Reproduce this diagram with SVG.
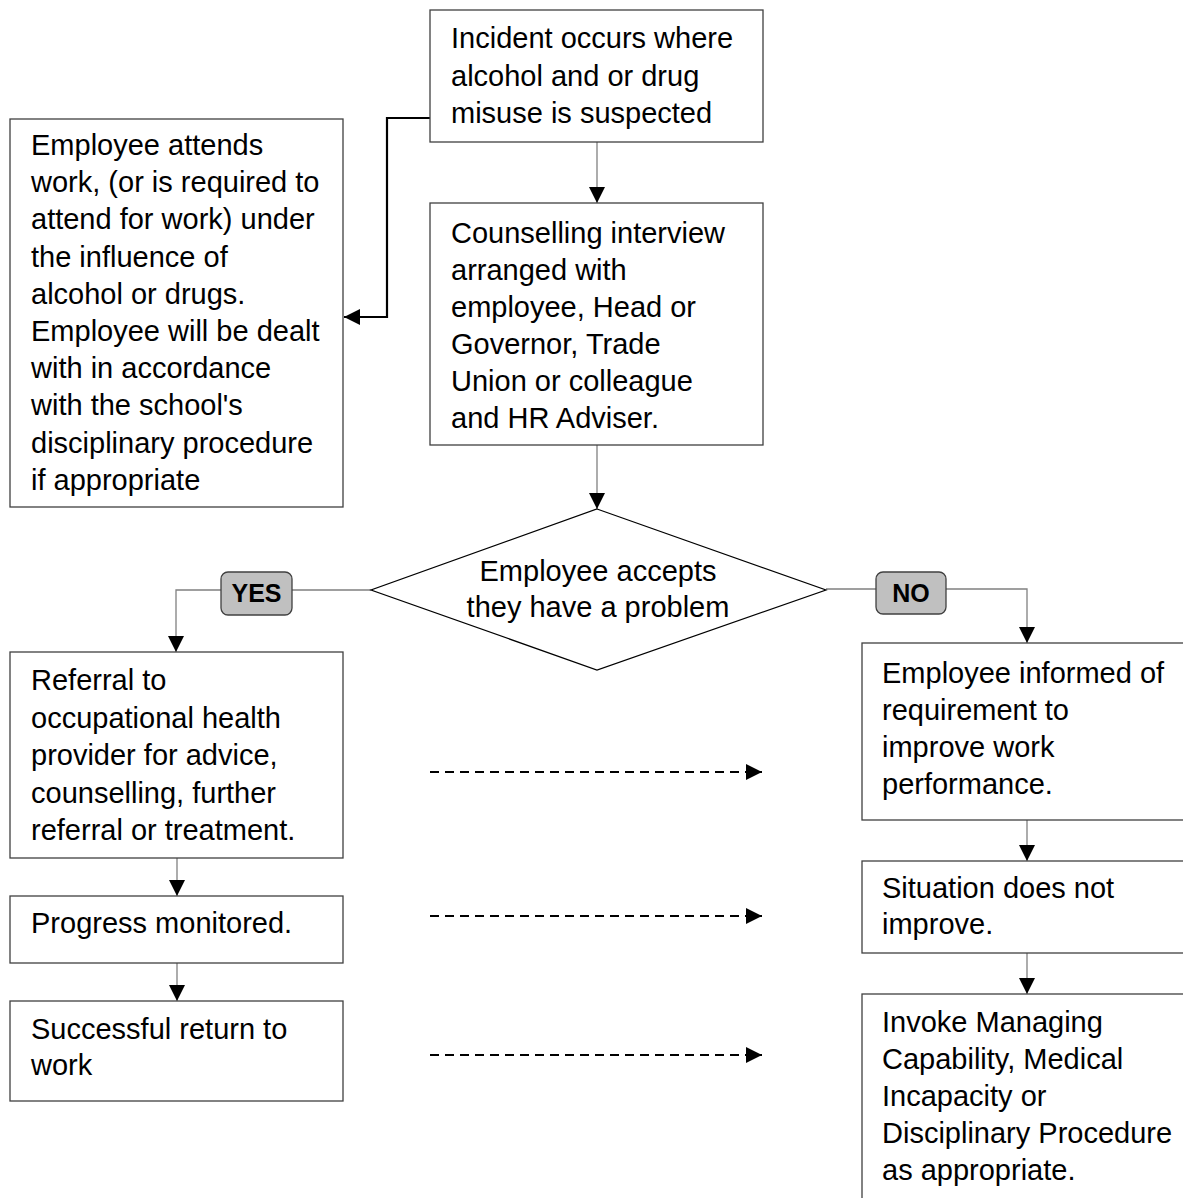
<svg xmlns="http://www.w3.org/2000/svg" width="1183" height="1198" viewBox="0 0 1183 1198">
<style>
.box{fill:#fff;stroke:#404040;stroke-width:1.3}
.t{font-family:"Liberation Sans",Arial,sans-serif;font-size:29px;fill:#000}
.tc{text-anchor:middle}
.lbl{fill:#c0c0c0;stroke:#404040;stroke-width:1.3}
.lt{font-family:"Liberation Sans",Arial,sans-serif;font-size:25px;font-weight:bold;fill:#000;text-anchor:middle}
.c{fill:none;stroke:#808080;stroke-width:1.3}
.cb{fill:none;stroke:#000;stroke-width:2.2}
.d{fill:none;stroke:#000;stroke-width:2;stroke-dasharray:9 6}
</style>
<defs>
<marker id="ah" markerUnits="userSpaceOnUse" markerWidth="16" markerHeight="16" refX="14" refY="7" orient="auto" viewBox="0 0 14 14">
<path d="M0,0 L14,7 L0,14 Z" fill="#000"/>
</marker>
</defs>
<g id="connectors">
<line class="c" x1="597" y1="142" x2="597" y2="203" marker-end="url(#ah)"/>
<polyline class="cb" points="430,118 387,118 387,317 344,317" marker-end="url(#ah)"/>
<line class="c" x1="597" y1="445" x2="597" y2="509" marker-end="url(#ah)"/>
<polyline class="c" points="371,590 176,590 176,652" marker-end="url(#ah)"/>
<polyline class="c" points="826,589 1027,589 1027,643" marker-end="url(#ah)"/>
<line class="c" x1="177" y1="858" x2="177" y2="896" marker-end="url(#ah)"/>
<line class="c" x1="177" y1="963" x2="177" y2="1001" marker-end="url(#ah)"/>
<line class="c" x1="1027" y1="820" x2="1027" y2="861" marker-end="url(#ah)"/>
<line class="c" x1="1027" y1="953" x2="1027" y2="994" marker-end="url(#ah)"/>
<line class="d" x1="430" y1="772" x2="762" y2="772" marker-end="url(#ah)"/>
<line class="d" x1="430" y1="916" x2="762" y2="916" marker-end="url(#ah)"/>
<line class="d" x1="430" y1="1055" x2="762" y2="1055" marker-end="url(#ah)"/>
</g>
<g id="incident">
<rect class="box" x="430" y="10" width="333" height="132"/>
<text class="t" x="451" y="48">Incident occurs where</text>
<text class="t" x="451" y="85.5">alcohol and or drug</text>
<text class="t" x="451" y="123">misuse is suspected</text>
</g>
<g id="influence">
<rect class="box" x="10" y="119" width="333" height="388"/>
<text class="t" x="31" y="155">Employee attends</text>
<text class="t" x="31" y="192.2">work, (or is required to</text>
<text class="t" x="31" y="229.4">attend for work) under</text>
<text class="t" x="31" y="266.6">the influence of</text>
<text class="t" x="31" y="303.8">alcohol or drugs.</text>
<text class="t" x="31" y="341">Employee will be dealt</text>
<text class="t" x="31" y="378.2">with in accordance</text>
<text class="t" x="31" y="415.4">with the school's</text>
<text class="t" x="31" y="452.6">disciplinary procedure</text>
<text class="t" x="31" y="489.8">if appropriate</text>
</g>
<g id="counselling">
<rect class="box" x="430" y="203" width="333" height="242"/>
<text class="t" x="451" y="243">Counselling interview</text>
<text class="t" x="451" y="280">arranged with</text>
<text class="t" x="451" y="317">employee, Head or</text>
<text class="t" x="451" y="354">Governor, Trade</text>
<text class="t" x="451" y="391">Union or colleague</text>
<text class="t" x="451" y="428">and HR Adviser.</text>
</g>
<g id="decision">
<polygon points="597,509 826,590 597,670 371,590" fill="#fff" stroke="#000" stroke-width="1.2"/>
<text class="t tc" x="598" y="581">Employee accepts</text>
<text class="t tc" x="598" y="617">they have a problem</text>
</g>
<g id="yes-label">
<rect class="lbl" x="221" y="572" width="71" height="43" rx="7"/>
<text class="lt" x="256.5" y="602">YES</text>
</g>
<g id="no-label">
<rect class="lbl" x="876" y="572" width="70" height="42" rx="7"/>
<text class="lt" x="911" y="602">NO</text>
</g>
<g id="referral">
<rect class="box" x="10" y="652" width="333" height="206"/>
<text class="t" x="31" y="690">Referral to</text>
<text class="t" x="31" y="727.5">occupational health</text>
<text class="t" x="31" y="765">provider for advice,</text>
<text class="t" x="31" y="802.5">counselling, further</text>
<text class="t" x="31" y="840">referral or treatment.</text>
</g>
<g id="progress">
<rect class="box" x="10" y="896" width="333" height="67"/>
<text class="t" x="31" y="933">Progress monitored.</text>
</g>
<g id="return">
<rect class="box" x="10" y="1001" width="333" height="100"/>
<text class="t" x="31" y="1039">Successful return to</text>
<text class="t" x="31" y="1075">work</text>
</g>
<g id="informed">
<rect class="box" x="862" y="643" width="340" height="177"/>
<text class="t" x="882" y="683">Employee informed of</text>
<text class="t" x="882" y="720">requirement to</text>
<text class="t" x="882" y="757">improve work</text>
<text class="t" x="882" y="794">performance.</text>
</g>
<g id="situation">
<rect class="box" x="862" y="861" width="340" height="92"/>
<text class="t" x="882" y="898">Situation does not</text>
<text class="t" x="882" y="934">improve.</text>
</g>
<g id="invoke">
<rect class="box" x="862" y="994" width="340" height="230"/>
<text class="t" x="882" y="1032">Invoke Managing</text>
<text class="t" x="882" y="1069">Capability, Medical</text>
<text class="t" x="882" y="1106">Incapacity or</text>
<text class="t" x="882" y="1143">Disciplinary Procedure</text>
<text class="t" x="882" y="1180">as appropriate.</text>
</g>
</svg>
